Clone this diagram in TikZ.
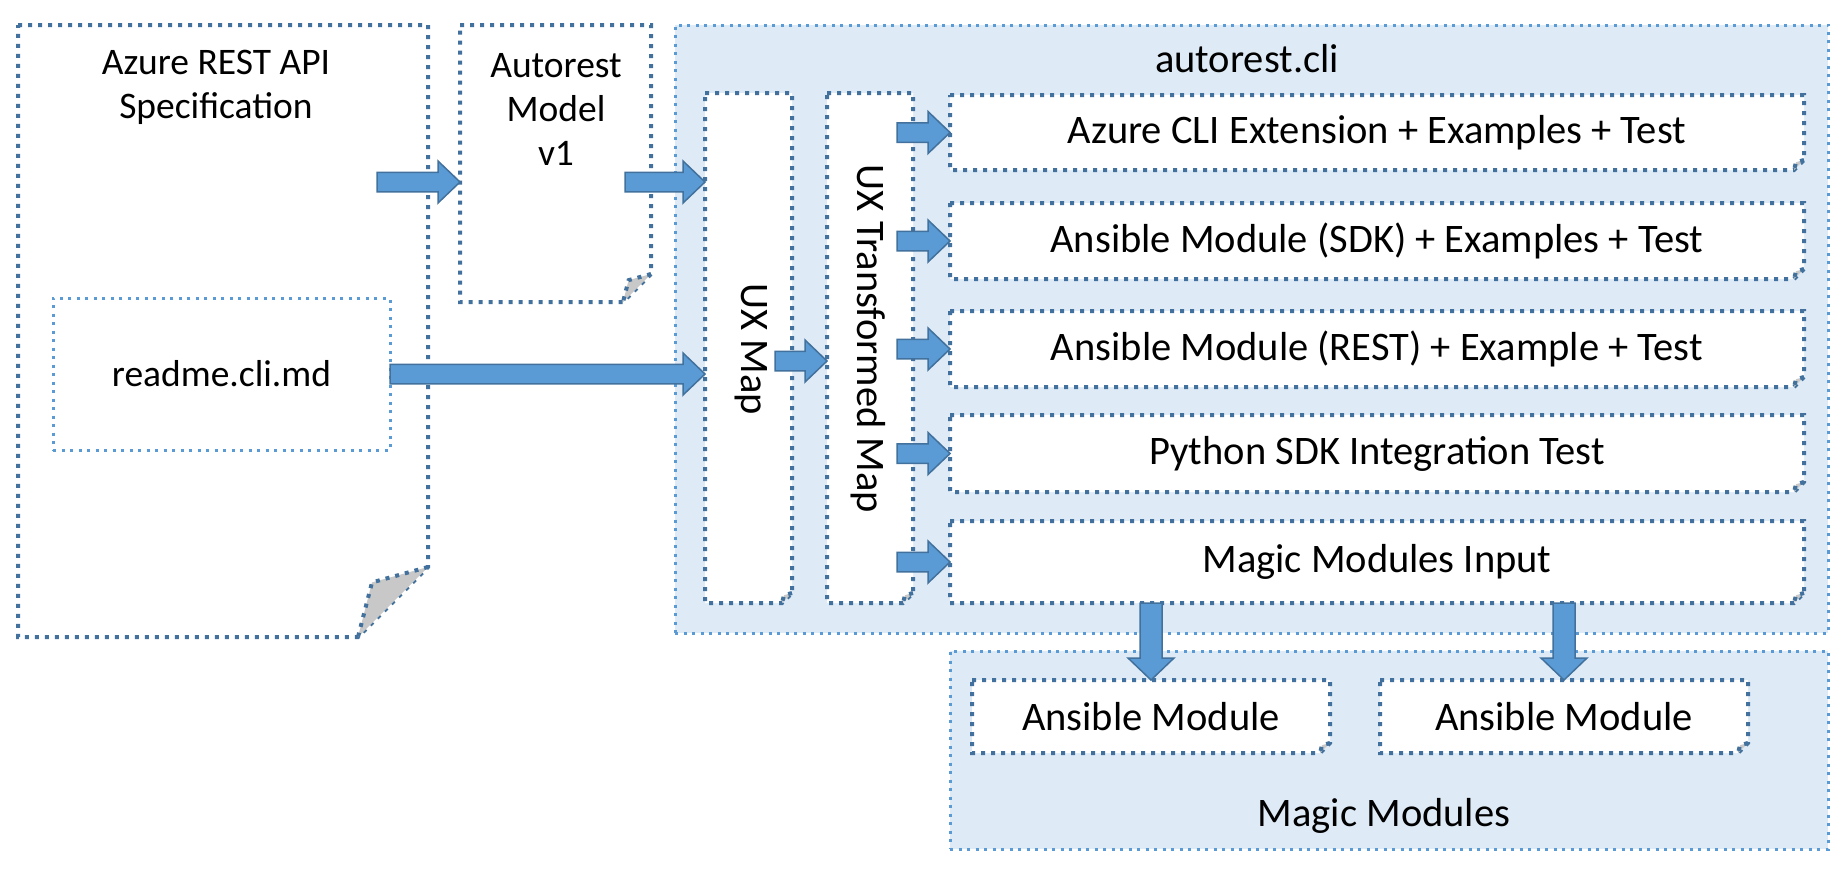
\documentclass[tikz,border=0pt]{standalone}
\usepackage{fontspec}
\setmainfont{Carlito}
\usetikzlibrary{calc,fit}
\definecolor{dkblue}{HTML}{41719C}
\definecolor{ltblue}{HTML}{5B9BD5}
\definecolor{panel}{HTML}{DEEBF7}
\definecolor{foldgray}{HTML}{C8C8C8}
\pgfdeclarelayer{back}
\pgfdeclarelayer{boxes}
\pgfsetlayers{back,boxes,main}
\tikzset{
	darkdot/.style={draw=dkblue,line width=1.6pt,dash pattern=on 1.6pt off 2.4pt},
	lightdot/.style={draw=ltblue,line width=1.2pt,dash pattern=on 1.2pt off 2.2pt},
	area/.style={inner sep=0pt,outer sep=0pt},
	bigtext/.style={font=\fontsize{16.2}{19}\selectfont},
	blockarrow/.style={fill=ltblue,draw=dkblue,line width=0.6pt,line join=miter},
}
% box with a folded lower right corner
\newcommand{\folded}[2]{%
	\draw[darkdot,fill=white] (#1.north west)--(#1.north east)--($(#1.south east)+(0,-#2)$)--($(#1.south east)+(-#2,0)$)--(#1.south west)--cycle;
	\draw[darkdot,fill=foldgray] ($(#1.south east)+(0,-#2)$)--($(#1.south east)+(-0.8*#2,-0.78*#2)$)--($(#1.south east)+(-#2,0)$);
}
\newcommand{\harrow}[2]{%
	\draw[blockarrow] let \p1=(#1),\p2=(#2) in
	(\x1,\y1+3.9pt)--(\x2-8.8pt,\y1+3.9pt)--(\x2-8.8pt,\y1+8.4pt)--(\x2,\y1)
	--(\x2-8.8pt,\y1-8.4pt)--(\x2-8.8pt,\y1-3.9pt)--(\x1,\y1-3.9pt)--cycle;
}
\newcommand{\varrow}[2]{%
	\draw[blockarrow] let \p1=(#1.south),\p2=(#2.north) in
	(\x2-4.4pt,\y1)--(\x2-4.4pt,\y2+8.8pt)--(\x2-9.2pt,\y2+8.8pt)--(\x2,\y2)
	--(\x2+9.2pt,\y2+8.8pt)--(\x2+4.4pt,\y2+8.8pt)--(\x2+4.4pt,\y1)--cycle;
}
\begin{document}
\begin{tikzpicture}[x=0.4pt,y=-0.4pt,font=\fontsize{15}{17.6}\selectfont]
	\useasboundingbox (0,0) rectangle (1846,875);
	% panels
	\begin{pgfonlayer}{back}
		\node[area,lightdot,fill=panel,fit={(675,25) (1828,633)}] (cli) {};
		\node[area,lightdot,fill=panel,fit={(950,651) (1828,849)}] (magic) {};
	\end{pgfonlayer}
	\node[bigtext] (clititle) at (1247,59) {autorest.cli};
	\node[bigtext] (magictitle) at (1384,816) {Magic Modules};
	% inputs
	\node[area,fit={(18,25) (428,637)}] (spec) {};
	\node[align=center] (spectext) at (216,87) {Azure REST API\\Specification};
	\node[area,fit={(460,25) (651,302)}] (model) {};
	\node[align=center] (modeltext) at (556,109) {Autorest\\Model\\v1};
	\node[area,lightdot,fill=white,fit={(53,298) (390,450)},label={center:readme.cli.md}] (readme) {};
	% maps
	\node[area,fit={(705,93) (792,603)}] (uxmap) {};
	\node[bigtext,rotate=-90] (uxmaptext) at (751,349) {UX Map};
	\node[area,fit={(827,93) (913,603)}] (uxt) {};
	\node[bigtext,rotate=-90] (uxttext) at (868,339) {UX Transformed Map};
	% outputs
	\foreach \name/\top/\bot/\txt in {
		cliext/95/170/{Azure CLI Extension + Examples + Test},
		anssdk/203/279/{Ansible Module (SDK) + Examples + Test},
		ansrest/311/387/{Ansible Module (REST) + Example + Test},
		pysdk/415/492/{Python SDK Integration Test},
		mminput/521/603/{Magic Modules Input}}
		\node[area,fit={(950,\top) (1804,\bot)},label={[bigtext]center:\txt}] (\name) {};
	\node[area,fit={(972,680) (1330,753)},label={[bigtext]center:Ansible Module}] (ansone) {};
	\node[area,fit={(1380,680) (1748,753)},label={[bigtext]center:Ansible Module}] (anstwo) {};
	\begin{pgfonlayer}{boxes}
		\folded{spec}{70}
		\folded{model}{28}
		\foreach \name in {uxmap,uxt,cliext,anssdk,ansrest,pysdk,mminput,ansone,anstwo}{
			\folded{\name}{10}
		}
	\end{pgfonlayer}
	% arrows
	\coordinate (specout) at (377,182);
	\coordinate (modelout) at (625,182);
	\coordinate (uxmapout) at (775,361);
	\harrow{specout}{model.west}
	\harrow{modelout}{uxmap.west}
	\harrow{readme.east}{uxmap.west}
	\harrow{uxmapout}{uxt.west}
	\foreach \name in {cliext,anssdk,ansrest,pysdk,mminput}{
		\coordinate (\name-src) at ([xshift=-6.4pt]\name.west -| uxt.east);
		\harrow{\name-src}{\name.west}
	}
	\varrow{mminput}{ansone}
	\varrow{mminput}{anstwo}
\end{tikzpicture}
\end{document}
